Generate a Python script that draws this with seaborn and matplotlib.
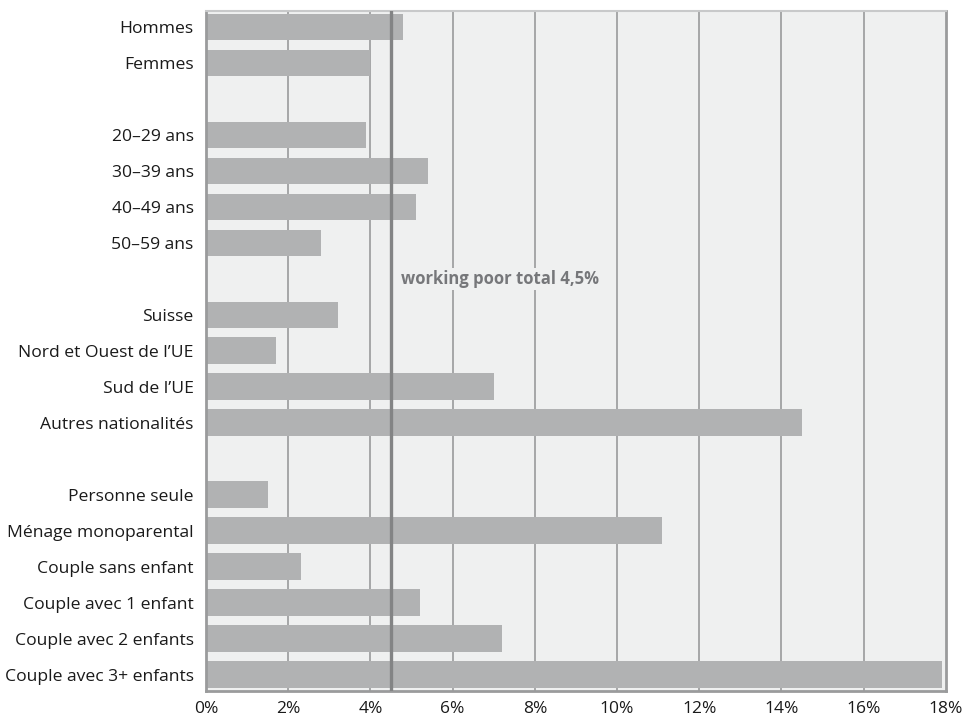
import numpy as np
import pandas as pd
import matplotlib
matplotlib.use("Agg")
import matplotlib.pyplot as plt
import seaborn as sns
from matplotlib.ticker import FuncFormatter

# Données (taux de working poor, en %)
sexe = ["Hommes", "Femmes"]
sexe_val = [4.8, 4.0]
age = ["20–29 ans", "30–39 ans", "40–49 ans", "50–59 ans"]
age_val = [3.9, 5.4, 5.1, 2.8]
nation = ["Suisse", "Nord et Ouest de l’UE", "Sud de l’UE", "Autres nationalités"]
nation_val = [3.2, 1.7, 7.0, 14.5]
menage = ["Personne seule", "Ménage monoparental", "Couple sans enfant",
          "Couple avec 1 enfant", "Couple avec 2 enfants", "Couple avec 3+ enfants"]
menage_val = [1.5, 11.1, 2.3, 5.2, 7.2, 17.9]
total = 4.5

# lignes vides entre les groupes
labels, values = [], []
groups = [(sexe, sexe_val), (age, age_val), (nation, nation_val), (menage, menage_val)]
for i, (lab, val) in enumerate(groups):
    if i > 0:
        labels.append(" " * i)
        values.append(np.nan)
    labels += lab
    values += val
df = pd.DataFrame({"label": labels, "valeur": values})

sns.set_style("white")
plt.rcParams["font.family"] = ["Open Sans", "DejaVu Sans"]

fig = plt.figure(figsize=(9.64, 7.24), dpi=100)
ax = fig.add_axes([0.2137, 0.045, 0.7675, 0.94])
ax.set_facecolor("#eff0f0")

sns.barplot(data=df, x="valeur", y="label", order=labels, orient="h",
            color="#b1b2b3", saturation=1, width=0.74, linewidth=0, ax=ax, zorder=2)

ax.set_xlim(0, 18)
ax.set_ylim(len(labels) - 0.53, -0.45)
ax.set_xticks(np.arange(0, 19, 2))
ax.xaxis.set_major_formatter(FuncFormatter(lambda v, p: f"{v:.0f}%"))
for x in np.arange(2, 18, 2):
    ax.axvline(x, color="#a6a7a8", lw=1.4, zorder=1)
ax.axvline(total, color="#838485", lw=2.4, zorder=3)
ax.text(total + 0.25, 7.0, "working poor total 4,5%", fontsize=12, fontweight="bold",
        color="#76777a", va="center", ha="left", zorder=4,
        bbox=dict(facecolor="#eff0f0", edgecolor="none", pad=1.5))

ax.set_xlabel("")
ax.set_ylabel("")
ax.tick_params(axis="x", length=4, width=1.2, color="#999a9b", labelsize=12.5,
               labelcolor="#1a1a1a", pad=3)
ax.tick_params(axis="y", length=0, labelsize=12.6, labelcolor="#1a1a1a", pad=9)
for side in ["left", "bottom", "right"]:
    ax.spines[side].set_color("#9a9b9c")
    ax.spines[side].set_linewidth(2)
ax.spines["top"].set_color("#c8c9ca")
ax.spines["top"].set_linewidth(1.5)

fig.savefig("out.png", dpi=100)
